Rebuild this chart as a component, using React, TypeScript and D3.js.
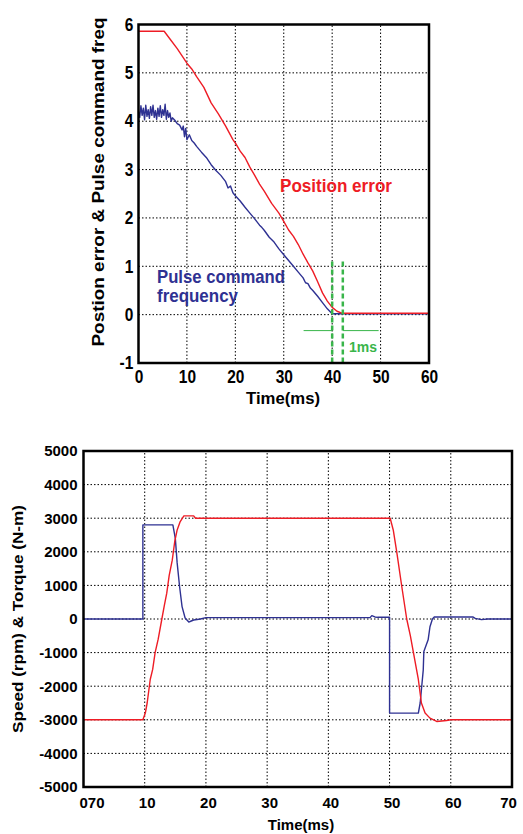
import React, { useEffect, useRef } from "react";
import * as d3 from "d3";

// ---- top chart: position error / pulse command frequency ----
const topXTicks = [0, 10, 20, 30, 40, 50, 60];
const topYTicks = [-1, 0, 1, 2, 3, 4, 5, 6];

const posErrT = [0, 5.3, 6.5, 8, 9, 10, 11, 12, 13.5, 15, 16.5, 18, 19.5, 20, 21, 22, 23, 24, 25, 26, 27.5, 29, 30, 31, 32, 33, 34, 35, 36, 37, 38, 39, 40, 41, 42, 60];
const posErrV = [5.86, 5.86, 5.7, 5.5, 5.35, 5.2, 5.08, 4.92, 4.7, 4.38, 4.15, 3.9, 3.62, 3.55, 3.38, 3.25, 3.05, 2.88, 2.7, 2.55, 2.3, 2.1, 1.93, 1.75, 1.62, 1.45, 1.25, 1.07, 0.9, 0.68, 0.45, 0.28, 0.15, 0.07, 0.03, 0.03];

const pulseT = [0, 0.25, 0.5, 0.75, 1, 1.25, 1.5, 1.75, 2, 2.25, 2.5, 2.75, 3, 3.25, 3.5, 3.75, 4, 4.25, 4.5, 4.75, 5, 5.25, 5.5, 5.75, 6, 6.25, 6.5, 6.75, 7, 7.5, 8, 8.5, 9, 9.25, 9.5, 9.75, 10, 10.5, 11, 11.5, 12, 13, 14, 15, 16, 17, 18, 18.5, 19, 19.5, 20, 21, 22, 23, 24, 25, 25.5, 26, 27, 28, 29, 30, 31, 32, 33, 34, 34.5, 35, 35.5, 36, 37, 38, 39, 40, 60];
const pulseV = [4.2, 4.08, 4.32, 4.12, 4.27, 4.03, 4.33, 4.1, 4.24, 4.06, 4.3, 4.12, 4.33, 4.08, 4.22, 4.04, 4.27, 4.1, 4.32, 4.08, 4.24, 4.12, 4.35, 4.04, 4.22, 4.08, 4.17, 4.0, 4.07, 4.02, 3.95, 3.92, 3.82, 3.9, 3.68, 3.85, 3.62, 3.72, 3.6, 3.55, 3.48, 3.36, 3.25, 3.1, 2.98, 2.88, 2.75, 2.62, 2.66, 2.52, 2.46, 2.35, 2.22, 2.1, 1.98, 1.85, 1.8, 1.74, 1.6, 1.5, 1.36, 1.24, 1.12, 1.0, 0.88, 0.76, 0.66, 0.64, 0.55, 0.5, 0.38, 0.25, 0.12, 0.02, 0.02];

// 1ms marker
const markerT = [40, 42.2];
const markerTop = 1.1;
const markerArm = -0.33;
const markerArmT = [34.1, 49.6];

// ---- bottom chart: speed / torque ----
const botXTicks = [0, 10, 20, 30, 40, 50, 60, 70];
const botXLabels = ["070", "10", "20", "30", "40", "50", "60", "70"];
const botYTicks = [-5000, -4000, -3000, -2000, -1000, 0, 1000, 2000, 3000, 4000, 5000];

const speedT = [0, 9.7, 10.1, 10.4, 10.9, 11.3, 11.7, 12.2, 12.8, 13.2, 13.6, 14.0, 14.5, 14.9, 15.3, 15.8, 16.4, 18.0, 18.3, 50.1, 50.6, 51.2, 52.0, 52.8, 53.4, 53.9, 54.7, 55.2, 55.8, 56.6, 57.7, 59.3, 60, 70];
const speedV = [-3000, -3000, -2800, -2500, -1800, -1500, -1000, -600, 0, 400, 770, 1300, 1750, 2300, 2650, 2900, 3070, 3070, 3000, 3000, 2650, 1960, 960, 0, -500, -1000, -1800, -2500, -2800, -2950, -3050, -3020, -3000, -3000];

const torqueT = [0, 9.7, 9.7, 14.6, 15.0, 15.3, 15.7, 16.1, 16.6, 17.2, 17.6, 18.0, 19.1, 20, 46.8, 47.1, 47.6, 48, 50.0, 50.0, 54.7, 55.0, 55.25, 55.5, 55.6, 56.3, 56.6, 57.0, 57.3, 63.6, 64, 65, 66, 70];
const torqueV = [0, 0, 2800, 2800, 2400, 1670, 960, 370, 30, -90, -60, -30, 0, 40, 40, 100, 60, 50, 50, -2800, -2800, -2500, -2010, -1520, -970, -620, -230, 0, 60, 60, 20, -20, 0, 0];

const RED = "#ee1c25";
const BLUE = "#2e3192";
const GREEN = "#39b54a";
const SANS = "'Liberation Sans', Arial, sans-serif";

export default function App() {
  const ref = useRef<SVGSVGElement>(null);

  useEffect(() => {
    const svg = d3.select(ref.current);
    svg.selectAll("*").remove();

    const frame = (g: any, x: any, y: any, xt: number[], yt: number[]) => {
      const [x0, x1] = x.range();
      const [y0, y1] = y.range();
      g.append("g")
        .selectAll("line")
        .data(xt.slice(1, -1))
        .join("line")
        .attr("x1", (d: number) => x(d))
        .attr("x2", (d: number) => x(d))
        .attr("y1", y0)
        .attr("y2", y1)
        .attr("stroke", "#000")
        .attr("stroke-width", 1)
        .attr("stroke-dasharray", "1.5,2");
      g.append("g")
        .selectAll("line")
        .data(yt.slice(1, -1))
        .join("line")
        .attr("x1", x0)
        .attr("x2", x1)
        .attr("y1", (d: number) => y(d))
        .attr("y2", (d: number) => y(d))
        .attr("stroke", "#000")
        .attr("stroke-width", 1)
        .attr("stroke-dasharray", "1.5,2");
    };

    const border = (g: any, x: any, y: any) => {
      const [x0, x1] = x.range();
      const [y0, y1] = y.range();
      g.append("rect")
        .attr("x", x0)
        .attr("y", y1)
        .attr("width", x1 - x0)
        .attr("height", y0 - y1)
        .attr("fill", "none")
        .attr("stroke", "#000")
        .attr("stroke-width", 2.5);
    };

    const series = (g: any, x: any, y: any, ts: number[], vs: number[], color: string, w = 1.4) => {
      const line = d3
        .line<number>()
        .x((_, i) => x(ts[i]))
        .y((d) => y(d));
      g.append("path")
        .datum(vs)
        .attr("d", line)
        .attr("fill", "none")
        .attr("stroke", color)
        .attr("stroke-width", w)
        .attr("stroke-linejoin", "round");
    };

    // ---------- top ----------
    const tx = d3.scaleLinear().domain([0, 60]).range([138.5, 429]);
    const ty = d3.scaleLinear().domain([-1, 6]).range([363, 24.5]);
    const top = svg.append("g");
    frame(top, tx, ty, topXTicks, topYTicks);

    series(top, tx, ty, pulseT, pulseV, BLUE, 1.4);
    series(top, tx, ty, posErrT, posErrV, RED, 1.4);

    // 1 ms marker
    top.append("g")
      .selectAll("line")
      .data(markerT)
      .join("line")
      .attr("x1", (d) => tx(d))
      .attr("x2", (d) => tx(d))
      .attr("y1", ty(markerTop))
      .attr("y2", ty(-1))
      .attr("stroke", GREEN)
      .attr("stroke-width", 2.5)
      .attr("stroke-dasharray", "5,3");
    top.append("line")
      .attr("x1", tx(markerArmT[0]))
      .attr("x2", tx(markerT[0]))
      .attr("y1", ty(markerArm))
      .attr("y2", ty(markerArm))
      .attr("stroke", GREEN)
      .attr("stroke-width", 1);
    top.append("line")
      .attr("x1", tx(markerT[1]))
      .attr("x2", tx(markerArmT[1]))
      .attr("y1", ty(markerArm))
      .attr("y2", ty(markerArm))
      .attr("stroke", GREEN)
      .attr("stroke-width", 1);
    top.append("text")
      .attr("x", 349)
      .attr("y", 352)
      .attr("fill", GREEN)
      .attr("font-family", SANS)
      .attr("font-weight", "bold")
      .attr("font-size", 15)
      .attr("textLength", 28)
      .attr("lengthAdjust", "spacingAndGlyphs")
      .text("1ms");

    border(top, tx, ty);

    top.append("g")
      .attr("transform", `translate(0,${ty(-1)})`)
      .call(d3.axisBottom(tx).tickValues(topXTicks).tickSize(0).tickPadding(7).tickFormat((d) => `${d}`))
      .call((g) => g.select(".domain").remove())
      .selectAll("text")
      .attr("transform", "scale(0.86,1)")
      .attr("font-family", SANS)
      .attr("font-weight", "bold")
      .attr("font-size", 18)
      .attr("fill", "#000");

    top.append("g")
      .attr("transform", `translate(${tx(0)},0)`)
      .call(d3.axisLeft(ty).tickValues(topYTicks).tickSize(0).tickPadding(6).tickFormat((d) => `${d}`))
      .call((g) => g.select(".domain").remove())
      .selectAll("text")
      .attr("transform", "scale(0.86,1)")
      .attr("font-family", SANS)
      .attr("font-weight", "bold")
      .attr("font-size", 18)
      .attr("fill", "#000");

    top.append("text")
      .attr("x", 283)
      .attr("y", 404)
      .attr("text-anchor", "middle")
      .attr("font-family", SANS)
      .attr("font-weight", "bold")
      .attr("font-size", 17)
      .attr("textLength", 74)
      .attr("lengthAdjust", "spacingAndGlyphs")
      .text("Time(ms)");

    top.append("text")
      .attr("transform", `translate(104,182) rotate(-90)`)
      .attr("text-anchor", "middle")
      .attr("font-family", SANS)
      .attr("font-weight", "bold")
      .attr("font-size", 17)
      .attr("textLength", 329)
      .attr("lengthAdjust", "spacingAndGlyphs")
      .text("Postion error & Pulse command freq");

    top.append("text")
      .attr("x", 280)
      .attr("y", 192)
      .attr("fill", RED)
      .attr("font-family", SANS)
      .attr("font-weight", "bold")
      .attr("font-size", 19)
      .attr("textLength", 112)
      .attr("lengthAdjust", "spacingAndGlyphs")
      .text("Position error");

    top.append("text")
      .attr("x", 157)
      .attr("y", 283)
      .attr("fill", BLUE)
      .attr("font-family", SANS)
      .attr("font-weight", "bold")
      .attr("font-size", 19)
      .attr("textLength", 128)
      .attr("lengthAdjust", "spacingAndGlyphs")
      .text("Pulse command");

    top.append("text")
      .attr("x", 157)
      .attr("y", 302)
      .attr("fill", BLUE)
      .attr("font-family", SANS)
      .attr("font-weight", "bold")
      .attr("font-size", 19)
      .attr("textLength", 81)
      .attr("lengthAdjust", "spacingAndGlyphs")
      .text("frequency");

    // ---------- bottom ----------
    const bx = d3.scaleLinear().domain([0, 70]).range([83.5, 512]);
    const by = d3.scaleLinear().domain([-5000, 5000]).range([787, 451]);
    const bot = svg.append("g");
    frame(bot, bx, by, botXTicks, botYTicks);
    series(bot, bx, by, torqueT, torqueV, BLUE, 1.4);
    series(bot, bx, by, speedT, speedV, RED, 1.4);
    border(bot, bx, by);

    bot.append("g")
      .attr("transform", `translate(0,${by(-5000)})`)
      .call(
        d3.axisBottom(bx).tickValues(botXTicks).tickSize(0).tickPadding(10)
          .tickFormat((_, i) => botXLabels[i])
      )
      .call((g) => g.select(".domain").remove())
      .selectAll("text")
      .attr("dx", (_, i) => (i === 0 ? 8 : i === botXTicks.length - 1 ? -4 : 2))
      .attr("font-family", SANS)
      .attr("font-weight", "bold")
      .attr("font-size", 15)
      .attr("fill", "#000");

    bot.append("g")
      .attr("transform", `translate(${bx(0)},0)`)
      .call(d3.axisLeft(by).tickValues(botYTicks).tickSize(0).tickPadding(6).tickFormat((d) => `${d}`))
      .call((g) => g.select(".domain").remove())
      .selectAll("text")
      .attr("font-family", SANS)
      .attr("font-weight", "bold")
      .attr("font-size", 15)
      .attr("fill", "#000");

    bot.append("text")
      .attr("x", 301)
      .attr("y", 830)
      .attr("text-anchor", "middle")
      .attr("font-family", SANS)
      .attr("font-weight", "bold")
      .attr("font-size", 15)
      .text("Time(ms)");

    bot.append("text")
      .attr("transform", `translate(23,619) rotate(-90)`)
      .attr("text-anchor", "middle")
      .attr("font-family", SANS)
      .attr("font-weight", "bold")
      .attr("font-size", 15)
      .attr("textLength", 228)
      .attr("lengthAdjust", "spacingAndGlyphs")
      .text("Speed (rpm) & Torque (N-m)");
  }, []);

  return (
    <svg
      ref={ref}
      width={523}
      height={834}
      style={{ position: "absolute", left: 0, top: 0, background: "#fff" }}
    ></svg>
  );
}
